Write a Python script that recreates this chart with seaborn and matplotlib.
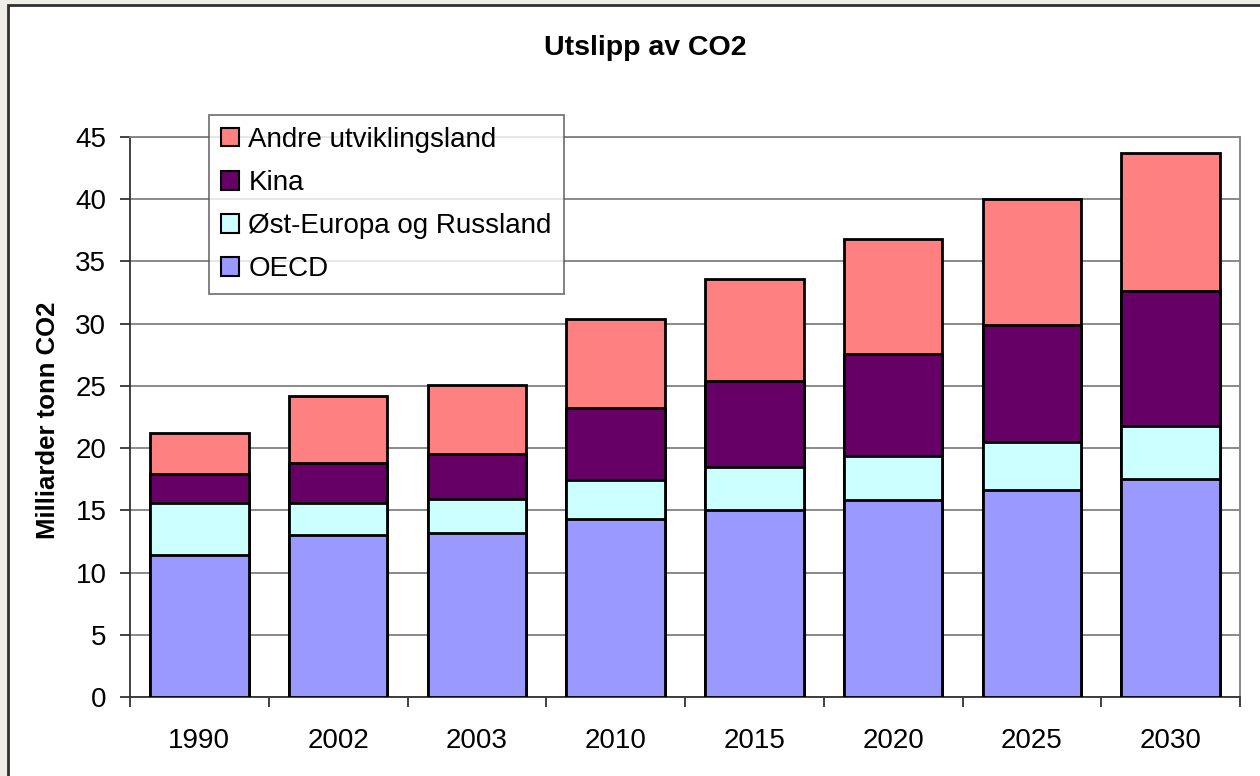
import numpy as np
import pandas as pd
import matplotlib
matplotlib.use("Agg")
import matplotlib.pyplot as plt
import seaborn as sns
from matplotlib.patches import Rectangle, Patch

# Data (milliarder tonn CO2 per region)
years = ['1990', '2002', '2003', '2010', '2015', '2020', '2025', '2030']
oecd = [11.4, 13.0, 13.2, 14.3, 15.0, 15.8, 16.6, 17.5]
ost_europa = [4.2, 2.6, 2.7, 3.1, 3.5, 3.6, 3.9, 4.3]
kina = [2.3, 3.2, 3.6, 5.8, 6.9, 8.2, 9.4, 10.8]
andre = [3.3, 5.4, 5.6, 7.2, 8.2, 9.2, 10.1, 11.1]

series = ['OECD', 'Øst-Europa og Russland', 'Kina', 'Andre utviklingsland']
colors = ['#9999FF', '#CCFFFF', '#660066', '#FF8080']

df = pd.DataFrame({'År': years, 'OECD': oecd, 'Øst-Europa og Russland': ost_europa,
                   'Kina': kina, 'Andre utviklingsland': andre})
# cumulative tops for stacking
cum = df[series].cumsum(axis=1)
cum['År'] = df['År']

sns.set_style("white")
plt.rcParams['font.family'] = ['Liberation Sans', 'DejaVu Sans']
plt.rcParams['text.color'] = 'black'
plt.rcParams['xtick.labelcolor'] = 'black'
plt.rcParams['ytick.labelcolor'] = 'black'

fig = plt.figure(figsize=(12.6, 7.76), dpi=100)
fig.patch.set_facecolor('#EEEEE6')
fig.add_artist(Rectangle((8 / 1260, -0.05), 1.2, 1.05 - 5 / 776, transform=fig.transFigure,
                         facecolor='white', edgecolor='#303030', linewidth=2, zorder=-1))

ax = fig.add_axes([130 / 1260, 1 - 697 / 776, 1110 / 1260, 560 / 776])
ax.set_facecolor('white')

# draw from the top of the stack down so each lower segment covers the one above
for name, col in zip(series[::-1], colors[::-1]):
    sns.barplot(data=cum, x='År', y=name, color=col, width=0.71, edgecolor='black',
                linewidth=2, saturation=1, ax=ax, zorder=3)

ax.set_ylim(0, 45)
ax.set_xlim(-0.5, 7.5)
ax.set_yticks(np.arange(0, 46, 5))
ax.yaxis.grid(True, color='#808080', linewidth=1.3, zorder=0)
ax.set_axisbelow(True)
ax.set_xlabel('')
ax.set_ylabel('')

for s in ['top', 'right']:
    ax.spines[s].set_color('#808080')
    ax.spines[s].set_linewidth(1.3)
for s in ['left', 'bottom']:
    ax.spines[s].set_color('#333333')
    ax.spines[s].set_linewidth(1.3)

ax.tick_params(axis='y', which='major', left=True, length=7, width=1.3, color='#333333',
               labelsize=20, pad=10, labelcolor='black')
ax.tick_params(axis='x', which='major', bottom=False, labelsize=20, pad=19, labelcolor='black')
ax.set_xticks(np.arange(-0.5, 8, 1), minor=True)
ax.tick_params(axis='x', which='minor', bottom=True, length=7, width=1.3, color='#333333')

fig.text(0.512, 1 - 48 / 776, 'Utslipp av CO2', ha='center', va='center',
         fontsize=20.5, fontweight='bold', color='black')
fig.text(48 / 1260, 1 - 420 / 776, 'Milliarder tonn CO2', ha='center', va='center',
         rotation=90, fontsize=18.5, fontweight='bold', color='black')

handles = [Patch(facecolor=c, edgecolor='black', linewidth=1.5) for c in colors[::-1]]
leg = ax.legend(handles, series[::-1], loc='upper left', bbox_to_anchor=(0.0712, 1.039),
                fontsize=20, frameon=True, fancybox=False, edgecolor='#555555',
                handlelength=0.65, handleheight=0.65, handletextpad=0.35,
                labelspacing=0.62, borderpad=0.42, borderaxespad=0)
leg.get_frame().set_linewidth(1.3)
for t in leg.get_texts():
    t.set_color('black')
leg.set_zorder(5)

fig.savefig('out.png', dpi=100, facecolor=fig.get_facecolor())
